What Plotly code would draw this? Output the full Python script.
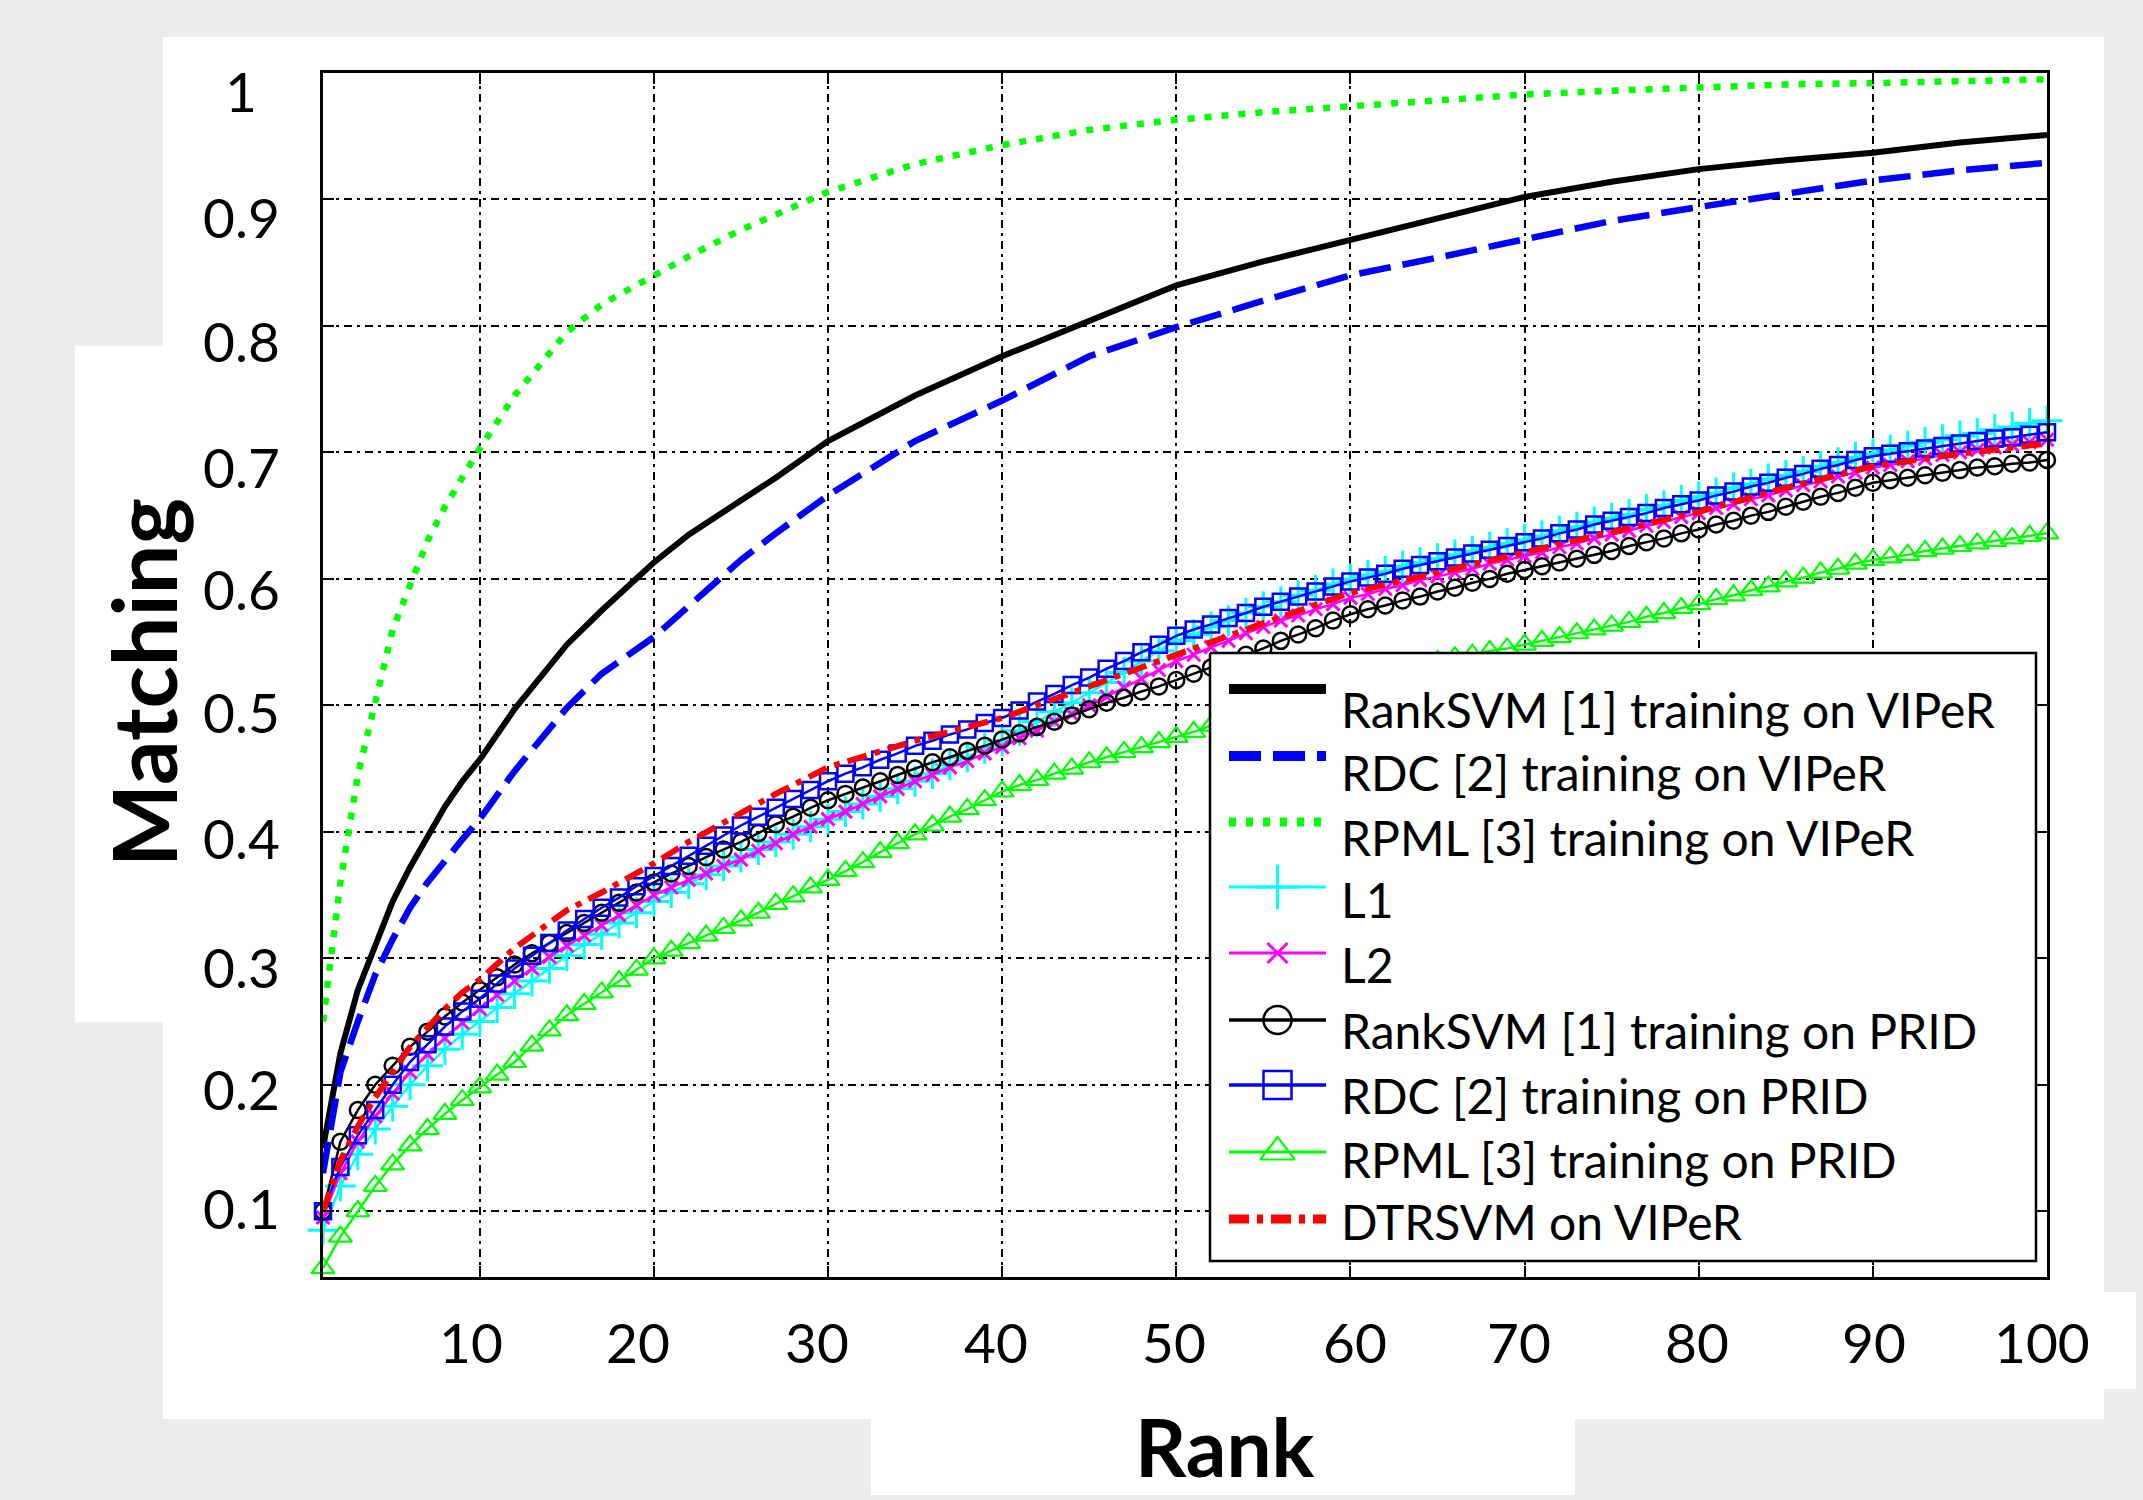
import plotly.graph_objects as go

# ---------------- data ----------------
ranks_all = list(range(1, 101))
ranks_sparse = [1, 2, 3, 4, 5, 6, 7, 8, 9, 10, 12, 15, 17, 20, 22, 25, 27, 30, 35, 40,
                45, 50, 55, 60, 65, 70, 75, 80, 85, 90, 95, 100]

ranksvm_viper = [0.150, 0.225, 0.275, 0.310, 0.345, 0.372, 0.397, 0.420, 0.440, 0.457,
                 0.497, 0.548, 0.575, 0.613, 0.635, 0.662, 0.680, 0.709, 0.745, 0.776,
                 0.804, 0.832, 0.851, 0.868, 0.886, 0.902, 0.914, 0.924, 0.931, 0.937,
                 0.945, 0.951]
rdc_viper = [0.130, 0.210, 0.250, 0.287, 0.315, 0.340, 0.360, 0.378, 0.394, 0.410,
             0.448, 0.498, 0.525, 0.554, 0.578, 0.615, 0.636, 0.666, 0.709, 0.741,
             0.776, 0.799, 0.820, 0.840, 0.854, 0.868, 0.883, 0.894, 0.904, 0.915,
             0.923, 0.929]
rpml_viper = [0.250, 0.360, 0.445, 0.505, 0.560, 0.595, 0.630, 0.657, 0.680, 0.703,
              0.745, 0.795, 0.817, 0.840, 0.855, 0.876, 0.888, 0.906, 0.928, 0.943,
              0.955, 0.963, 0.969, 0.974, 0.978, 0.983, 0.986, 0.989, 0.991, 0.992,
              0.993, 0.995]
dtrsvm_viper = [0.100, 0.140, 0.167, 0.190, 0.210, 0.230, 0.245, 0.260, 0.273, 0.283,
                0.308, 0.338, 0.352, 0.375, 0.392, 0.415, 0.430, 0.451, 0.472, 0.490,
                0.515, 0.541, 0.565, 0.589, 0.605, 0.620, 0.637, 0.653, 0.672, 0.689,
                0.699, 0.707]

l1 = [0.085, 0.120, 0.145, 0.165, 0.183, 0.200, 0.215, 0.228, 0.240, 0.250,
      0.261, 0.272, 0.282, 0.292, 0.302, 0.311, 0.319, 0.328, 0.336, 0.345,
      0.352, 0.359, 0.366, 0.373, 0.380, 0.386, 0.392, 0.398, 0.404, 0.410,
      0.416, 0.422, 0.428, 0.434, 0.440, 0.446, 0.453, 0.459, 0.466, 0.472,
      0.480, 0.487, 0.495, 0.502, 0.510, 0.518, 0.526, 0.535, 0.543, 0.551,
      0.556, 0.562, 0.567, 0.573, 0.578, 0.582, 0.587, 0.591, 0.596, 0.600,
      0.603, 0.606, 0.610, 0.613, 0.616, 0.619, 0.622, 0.625, 0.628, 0.631,
      0.634, 0.638, 0.641, 0.645, 0.648, 0.651, 0.655, 0.658, 0.662, 0.665,
      0.668, 0.672, 0.675, 0.679, 0.682, 0.685, 0.689, 0.692, 0.696, 0.699,
      0.702, 0.705, 0.708, 0.710, 0.713, 0.715, 0.718, 0.720, 0.723, 0.725]
l2 = [0.095, 0.130, 0.155, 0.175, 0.193, 0.210, 0.224, 0.237, 0.249, 0.260,
      0.271, 0.282, 0.292, 0.301, 0.310, 0.318, 0.326, 0.334, 0.342, 0.350,
      0.356, 0.362, 0.367, 0.373, 0.378, 0.385, 0.391, 0.398, 0.404, 0.410,
      0.416, 0.422, 0.428, 0.434, 0.440, 0.445, 0.451, 0.456, 0.462, 0.467,
      0.474, 0.480, 0.487, 0.493, 0.500, 0.507, 0.514, 0.521, 0.528, 0.535,
      0.540, 0.546, 0.551, 0.557, 0.562, 0.567, 0.571, 0.576, 0.580, 0.585,
      0.588, 0.592, 0.595, 0.599, 0.602, 0.605, 0.608, 0.612, 0.615, 0.618,
      0.621, 0.625, 0.628, 0.632, 0.635, 0.638, 0.642, 0.645, 0.649, 0.652,
      0.656, 0.659, 0.663, 0.666, 0.670, 0.674, 0.677, 0.681, 0.684, 0.688,
      0.690, 0.693, 0.695, 0.698, 0.700, 0.702, 0.704, 0.706, 0.708, 0.710]
ranksvm_prid = [0.100, 0.155, 0.180, 0.200, 0.215, 0.230, 0.242, 0.254, 0.265, 0.275,
                0.285, 0.295, 0.304, 0.312, 0.320, 0.328, 0.336, 0.344, 0.352, 0.360,
                0.367, 0.373, 0.380, 0.386, 0.392, 0.399, 0.406, 0.412, 0.419, 0.425,
                0.430, 0.435, 0.440, 0.445, 0.450, 0.455, 0.459, 0.464, 0.468, 0.473,
                0.478, 0.483, 0.487, 0.492, 0.497, 0.502, 0.506, 0.511, 0.515, 0.520,
                0.525, 0.530, 0.535, 0.540, 0.545, 0.551, 0.556, 0.561, 0.567, 0.572,
                0.576, 0.579, 0.583, 0.586, 0.590, 0.593, 0.597, 0.600, 0.604, 0.607,
                0.610, 0.613, 0.616, 0.619, 0.622, 0.626, 0.629, 0.632, 0.636, 0.639,
                0.643, 0.646, 0.650, 0.653, 0.657, 0.661, 0.665, 0.668, 0.672, 0.676,
                0.678, 0.680, 0.682, 0.684, 0.686, 0.688, 0.689, 0.691, 0.692, 0.694]
rdc_prid = [0.100, 0.135, 0.160, 0.180, 0.200, 0.218, 0.232, 0.246, 0.258, 0.268,
            0.280, 0.292, 0.302, 0.312, 0.322, 0.331, 0.340, 0.348, 0.357, 0.365,
            0.373, 0.381, 0.389, 0.397, 0.405, 0.412, 0.419, 0.426, 0.433, 0.440,
            0.446, 0.451, 0.457, 0.462, 0.468, 0.472, 0.477, 0.481, 0.486, 0.490,
            0.496, 0.503, 0.509, 0.516, 0.522, 0.529, 0.535, 0.542, 0.548, 0.555,
            0.560, 0.564, 0.569, 0.573, 0.578, 0.582, 0.586, 0.590, 0.594, 0.598,
            0.601, 0.604, 0.608, 0.611, 0.614, 0.617, 0.620, 0.623, 0.626, 0.629,
            0.632, 0.636, 0.639, 0.643, 0.646, 0.649, 0.652, 0.656, 0.659, 0.662,
            0.666, 0.669, 0.673, 0.676, 0.680, 0.683, 0.687, 0.690, 0.694, 0.697,
            0.699, 0.701, 0.703, 0.705, 0.707, 0.709, 0.711, 0.712, 0.714, 0.716]
rpml_prid = [0.055, 0.080, 0.100, 0.120, 0.137, 0.152, 0.165, 0.177, 0.188, 0.198,
             0.208, 0.218, 0.231, 0.243, 0.255, 0.264, 0.273, 0.282, 0.291, 0.300,
             0.306, 0.312, 0.318, 0.324, 0.330, 0.336, 0.343, 0.349, 0.356, 0.362,
             0.369, 0.376, 0.384, 0.391, 0.398, 0.405, 0.412, 0.418, 0.425, 0.432,
             0.437, 0.441, 0.446, 0.450, 0.455, 0.459, 0.463, 0.467, 0.471, 0.475,
             0.479, 0.484, 0.488, 0.493, 0.497, 0.502, 0.506, 0.511, 0.515, 0.520,
             0.523, 0.526, 0.529, 0.532, 0.535, 0.538, 0.540, 0.543, 0.545, 0.548,
             0.551, 0.554, 0.557, 0.560, 0.563, 0.566, 0.570, 0.573, 0.577, 0.580,
             0.584, 0.587, 0.591, 0.594, 0.598, 0.601, 0.605, 0.608, 0.612, 0.615,
             0.617, 0.619, 0.622, 0.624, 0.626, 0.628, 0.630, 0.632, 0.634, 0.636]

series_names = ["RankSVM [1] training on VIPeR", "RDC [2] training on VIPeR",
                "RPML [3] training on VIPeR", "L1", "L2",
                "RankSVM [1] training on PRID", "RDC [2] training on PRID",
                "RPML [3] training on PRID", "DTRSVM on VIPeR"]

x_tick_vals = [10, 20, 30, 40, 50, 60, 70, 80, 90, 100]
x_tick_text = ["10", "20", "30", "40", "50", "60", "70", "80", "90", "100"]
y_tick_vals = [0.1, 0.2, 0.3, 0.4, 0.5, 0.6, 0.7, 0.8, 0.9, 1.0]
y_tick_text = ["0.1", "0.2", "0.3", "0.4", "0.5", "0.6", "0.7", "0.8", "0.9", "1"]

# ---------------- layout constants (pixels) ----------------
W, H = 2143, 1500
L, R, T, B = 323, 2047, 73, 1277


def px(xp):
    return (xp - L) / (R - L)


def py(yp):
    return (B - yp) / (B - T)


FONT = "Lato, 'Open Sans', sans-serif"

styles = [
    dict(mode="lines", line=dict(color="#000000", width=6)),
    dict(mode="lines", line=dict(color="#0000ff", width=6.5, dash="32px,12px")),
    dict(mode="lines", line=dict(color="#00ff00", width=6.5, dash="7px,10px")),
    dict(mode="lines+markers", line=dict(color="#00ffff", width=2.5),
         marker=dict(symbol="cross-thin", size=22, line=dict(width=3, color="#00ffff"))),
    dict(mode="lines+markers", line=dict(color="#ff00ff", width=2.5),
         marker=dict(symbol="x-thin", size=13, line=dict(width=3, color="#ff00ff"))),
    dict(mode="lines+markers", line=dict(color="#000000", width=2.5),
         marker=dict(symbol="circle-open", size=16, color="#000000", line=dict(width=2.5))),
    dict(mode="lines+markers", line=dict(color="#0000ff", width=2.5),
         marker=dict(symbol="square-open", size=16, color="#0000ff", line=dict(width=2.5))),
    dict(mode="lines+markers", line=dict(color="#00ff00", width=2.5),
         marker=dict(symbol="triangle-up-open", size=20, color="#00ff00", line=dict(width=2.2))),
    dict(mode="lines", line=dict(color="#ff0000", width=6, dash="20px,8px,6px,8px")),
]

data_series = [
    (ranks_sparse, ranksvm_viper),
    (ranks_sparse, rdc_viper),
    (ranks_sparse, rpml_viper),
    (ranks_all, l1),
    (ranks_all, l2),
    (ranks_all, ranksvm_prid),
    (ranks_all, rdc_prid),
    (ranks_all, rpml_prid),
    (ranks_sparse, dtrsvm_viper),
]

fig = go.Figure()
for (xs, ys), st, name in zip(data_series, styles, series_names):
    fig.add_trace(go.Scatter(x=xs, y=ys, name=name, showlegend=False,
                             cliponaxis=False, hoverinfo="skip", **st))

# ---------------- custom legend (overlay axes in plot-fraction units) ----------------
LEG_BOX = (1210, 653, 2036, 1261)
leg_line_y = [689, 756, 822, 887, 953, 1020, 1085, 1152, 1219]
leg_text_y = [709, 773, 837, 900, 964, 1030, 1095, 1159, 1221]
leg_x0, leg_x1, leg_tx = 1229, 1326, 1339

bx0, by0, bx1, by1 = LEG_BOX
fig.add_trace(go.Scatter(
    x=[px(bx0), px(bx1), px(bx1), px(bx0), px(bx0)],
    y=[py(by0), py(by0), py(by1), py(by1), py(by0)],
    xaxis="x2", yaxis="y2", mode="lines", fill="toself", fillcolor="white",
    line=dict(color="black", width=2.5), showlegend=False, hoverinfo="skip"))

leg_line_widths = [10, 10, 9, 3, 3, 3.5, 3.5, 3, 9]
leg_marker_sizes = [0, 0, 0, 32, 20, 28, 28, 30, 0]
for i, st in enumerate(styles):
    ln = dict(st["line"])
    ln["width"] = leg_line_widths[i]
    yy = py(leg_line_y[i])
    fig.add_trace(go.Scatter(x=[px(leg_x0), px(leg_x1)], y=[yy, yy], xaxis="x2", yaxis="y2",
                             mode="lines", line=ln, showlegend=False, hoverinfo="skip"))
    if "marker" in st:
        mk = dict(st["marker"])
        mk["size"] = leg_marker_sizes[i]
        fig.add_trace(go.Scatter(x=[px((leg_x0 + leg_x1) / 2)], y=[yy], xaxis="x2", yaxis="y2",
                                 mode="markers", marker=mk, showlegend=False,
                                 cliponaxis=False, hoverinfo="skip"))

annotations = []
for name, ty in zip(series_names, leg_text_y):
    annotations.append(dict(x=px(leg_tx), y=py(ty), xref="paper", yref="paper",
                            text=name, showarrow=False, xanchor="left", yanchor="middle",
                            font=dict(family=FONT, size=48, color="black")))

# tick labels
x_label_shift = [-9, -16, -11, -6, -2, 5, -6, -2, 1, -5]
for v, t, s in zip(x_tick_vals, x_tick_text, x_label_shift):
    annotations.append(dict(x=v, y=0, xref="x", yref="paper", text=t, showarrow=False,
                            xanchor="center", yanchor="middle", xshift=s, yshift=-65,
                            font=dict(family=FONT, size=55, color="black")))
y_label_shift = [-3, 4, 9, 6, 7, 10, 15, 15, 18, 18]
for v, t, s in zip(y_tick_vals, y_tick_text, y_label_shift):
    annotations.append(dict(x=px(241), y=v, xref="paper", yref="y", text=t, showarrow=False,
                            xanchor="center", yanchor="middle", yshift=-s,
                            font=dict(family=FONT, size=55, color="black")))

# axis titles
annotations.append(dict(x=px(143), y=py(683), xref="paper", yref="paper", text="<b>Matching</b>",
                        textangle=-90, showarrow=False, xanchor="center", yanchor="middle",
                        font=dict(family=FONT, size=88, color="black")))
annotations.append(dict(x=px(1225), y=py(1446), xref="paper", yref="paper", text="<b>Rank</b>",
                        showarrow=False, xanchor="center", yanchor="middle",
                        font=dict(family=FONT, size=80, color="black")))

# white background patches
patches = [(163, 37, 2104, 1419), (75, 346, 200, 1022), (2030, 1292, 2136, 1389),
           (871, 1410, 1575, 1495)]
shapes = []
for x0, y0, x1, y1 in patches:
    shapes.append(dict(type="rect", xref="paper", yref="paper", x0=px(x0), x1=px(x1),
                       y0=py(y1), y1=py(y0), fillcolor="white", line=dict(width=0),
                       layer="below"))

axis_common = dict(showgrid=True, gridcolor="#000000", gridwidth=1.8,
                   griddash="8px,5px,3px,5px", ticks="inside", ticklen=11, tickwidth=1.8,
                   tickcolor="black", showticklabels=False, showline=True,
                   linecolor="black", linewidth=2.8, mirror="ticks", zeroline=False)

fig.update_layout(
    width=W, height=H,
    margin=dict(l=L, r=W - R, t=T, b=H - B, pad=0, autoexpand=False),
    paper_bgcolor="#ececec", plot_bgcolor="white",
    xaxis=dict(range=[1, 100], tickvals=x_tick_vals, **axis_common),
    yaxis=dict(range=[0.048, 1.0], tickvals=y_tick_vals, **axis_common),
    xaxis2=dict(overlaying="x", range=[0, 1], visible=False, anchor="y2"),
    yaxis2=dict(overlaying="y", range=[0, 1], visible=False, anchor="x2"),
    annotations=annotations, shapes=shapes, showlegend=False,
)

fig.write_html("out.html")
